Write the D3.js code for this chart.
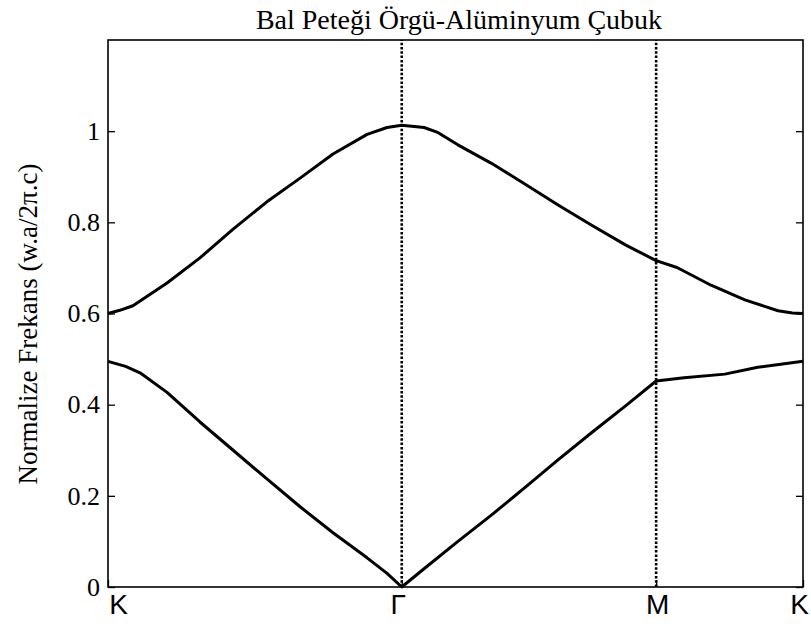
<!DOCTYPE html>
<html>
<head>
<meta charset="utf-8">
<script src="https://cdn.jsdelivr.net/npm/d3@7"></script>
<style>
  html, body { margin: 0; padding: 0; background: #fff; }
  svg { display: block; }
</style>
</head>
<body>
<svg id="chart" width="811" height="626"></svg>
<script>
// ---- data ----
const titleText = "Bal Peteği Örgü-Alüminyum Çubuk";
const yLabelText = "Normalize Frekans (w.a/2π.c)";
const symPoints = [0, 1, 1.866, 2.366];          // K, Γ, M, K along the path
const symLabels = ["K", "Γ", "M", "K"];
const yTicks = [0, 0.2, 0.4, 0.6, 0.8, 1];
const yMax = 1.2;

// band 2 (upper)
const band2K = [0, 0.040, 0.085, 0.201, 0.313, 0.426, 0.541, 0.654, 0.766, 0.882, 0.950, 1.0, 1.076, 1.12, 1.191, 1.304, 1.419, 1.535, 1.651, 1.763, 1.866, 1.937, 2.053, 2.168, 2.281, 2.330, 2.366];
const band2W = [0.600, 0.607, 0.617, 0.667, 0.722, 0.785, 0.845, 0.897, 0.950, 0.993, 1.008, 1.013, 1.008, 0.998, 0.970, 0.930, 0.884, 0.837, 0.792, 0.750, 0.716, 0.701, 0.662, 0.630, 0.606, 0.601, 0.600];
// band 1 (lower)
const band1K = [0, 0.060, 0.109, 0.201, 0.313, 0.426, 0.541, 0.654, 0.766, 0.882, 0.950, 1.0, 1.076, 1.187, 1.304, 1.419, 1.532, 1.647, 1.763, 1.866, 1.961, 2.100, 2.212, 2.366];
const band1W = [0.495, 0.484, 0.470, 0.427, 0.362, 0.300, 0.237, 0.176, 0.119, 0.064, 0.030, 0.0, 0.040, 0.098, 0.157, 0.218, 0.279, 0.339, 0.398, 0.452, 0.459, 0.467, 0.482, 0.495];

// ---- layout ----
const L = 108, R = 803, T = 40, B = 587;
const svg = d3.select("#chart");
const x = d3.scaleLinear().domain([symPoints[0], symPoints[symPoints.length - 1]]).range([L, R]);
const y = d3.scaleLinear().domain([0, yMax]).range([B, T]);

const serif = "'Liberation Serif', 'Times New Roman', serif";
const sans = "'Liberation Sans', Arial, sans-serif";

svg.append("rect").attr("width", 811).attr("height", 626).attr("fill", "#fff");

// bands
const line = d3.line().x(d => x(d[0])).y(d => y(d[1]));
[[band1K, band1W], [band2K, band2W]].forEach(([ks, ws]) => {
  svg.append("path")
    .datum(ks.map((k, i) => [k, ws[i]]))
    .attr("d", line)
    .attr("fill", "none")
    .attr("stroke", "#000")
    .attr("stroke-width", 3)
    .attr("stroke-linejoin", "round");
});

// dotted symmetry lines
svg.selectAll("line.sym")
  .data(symPoints.slice(1, -1))
  .enter().append("line")
  .attr("class", "sym")
  .attr("x1", d => x(d)).attr("x2", d => x(d))
  .attr("y1", y(0)).attr("y2", y(yMax))
  .attr("stroke", "#000")
  .attr("stroke-width", 2.6)
  .attr("stroke-dasharray", "2.5,1.8");

// y axis left
const yAxisL = d3.axisLeft(y).tickValues(yTicks).tickSizeInner(-7).tickSizeOuter(0)
  .tickPadding(8).tickFormat(d3.format("~g"));
const gL = svg.append("g").attr("transform", `translate(${L},0)`).call(yAxisL);
gL.select(".domain").remove();
gL.selectAll("text").attr("font-family", serif).attr("font-size", 26).attr("fill", "#000");
gL.selectAll("line").attr("stroke", "#000").attr("stroke-width", 1.3);

// y axis right (ticks only)
const yAxisR = d3.axisRight(y).tickValues(yTicks).tickSizeInner(-7).tickSizeOuter(0).tickFormat("");
const gR = svg.append("g").attr("transform", `translate(${R},0)`).call(yAxisR);
gR.select(".domain").remove();
gR.selectAll("line").attr("stroke", "#000").attr("stroke-width", 1.3);

// x axis bottom
const labelDx = [10, -4, 1, -4];
const xAxis = d3.axisBottom(x).tickValues(symPoints).tickSizeInner(-7).tickSizeOuter(0)
  .tickPadding(7).tickFormat((d, i) => symLabels[i]);
const gB = svg.append("g").attr("transform", `translate(0,${B})`).call(xAxis);
gB.select(".domain").remove();
gB.selectAll("text").attr("font-family", sans).attr("font-size", 28).attr("fill", "#000")
  .attr("dx", (d, i) => labelDx[i]);
gB.selectAll("line").attr("stroke", "#000").attr("stroke-width", 1.3);

// frame
svg.append("rect")
  .attr("x", L).attr("y", T).attr("width", R - L).attr("height", B - T)
  .attr("fill", "none").attr("stroke", "#000").attr("stroke-width", 1.6);

// title
svg.append("text")
  .attr("x", 459).attr("y", 29)
  .attr("text-anchor", "middle")
  .attr("font-family", serif).attr("font-size", 28)
  .attr("fill", "#000")
  .text(titleText);

// y label
svg.append("text")
  .attr("transform", `translate(37,324) rotate(-90)`)
  .attr("text-anchor", "middle")
  .attr("font-family", serif).attr("font-size", 27)
  .attr("fill", "#000")
  .text(yLabelText);
</script>
</body>
</html>
